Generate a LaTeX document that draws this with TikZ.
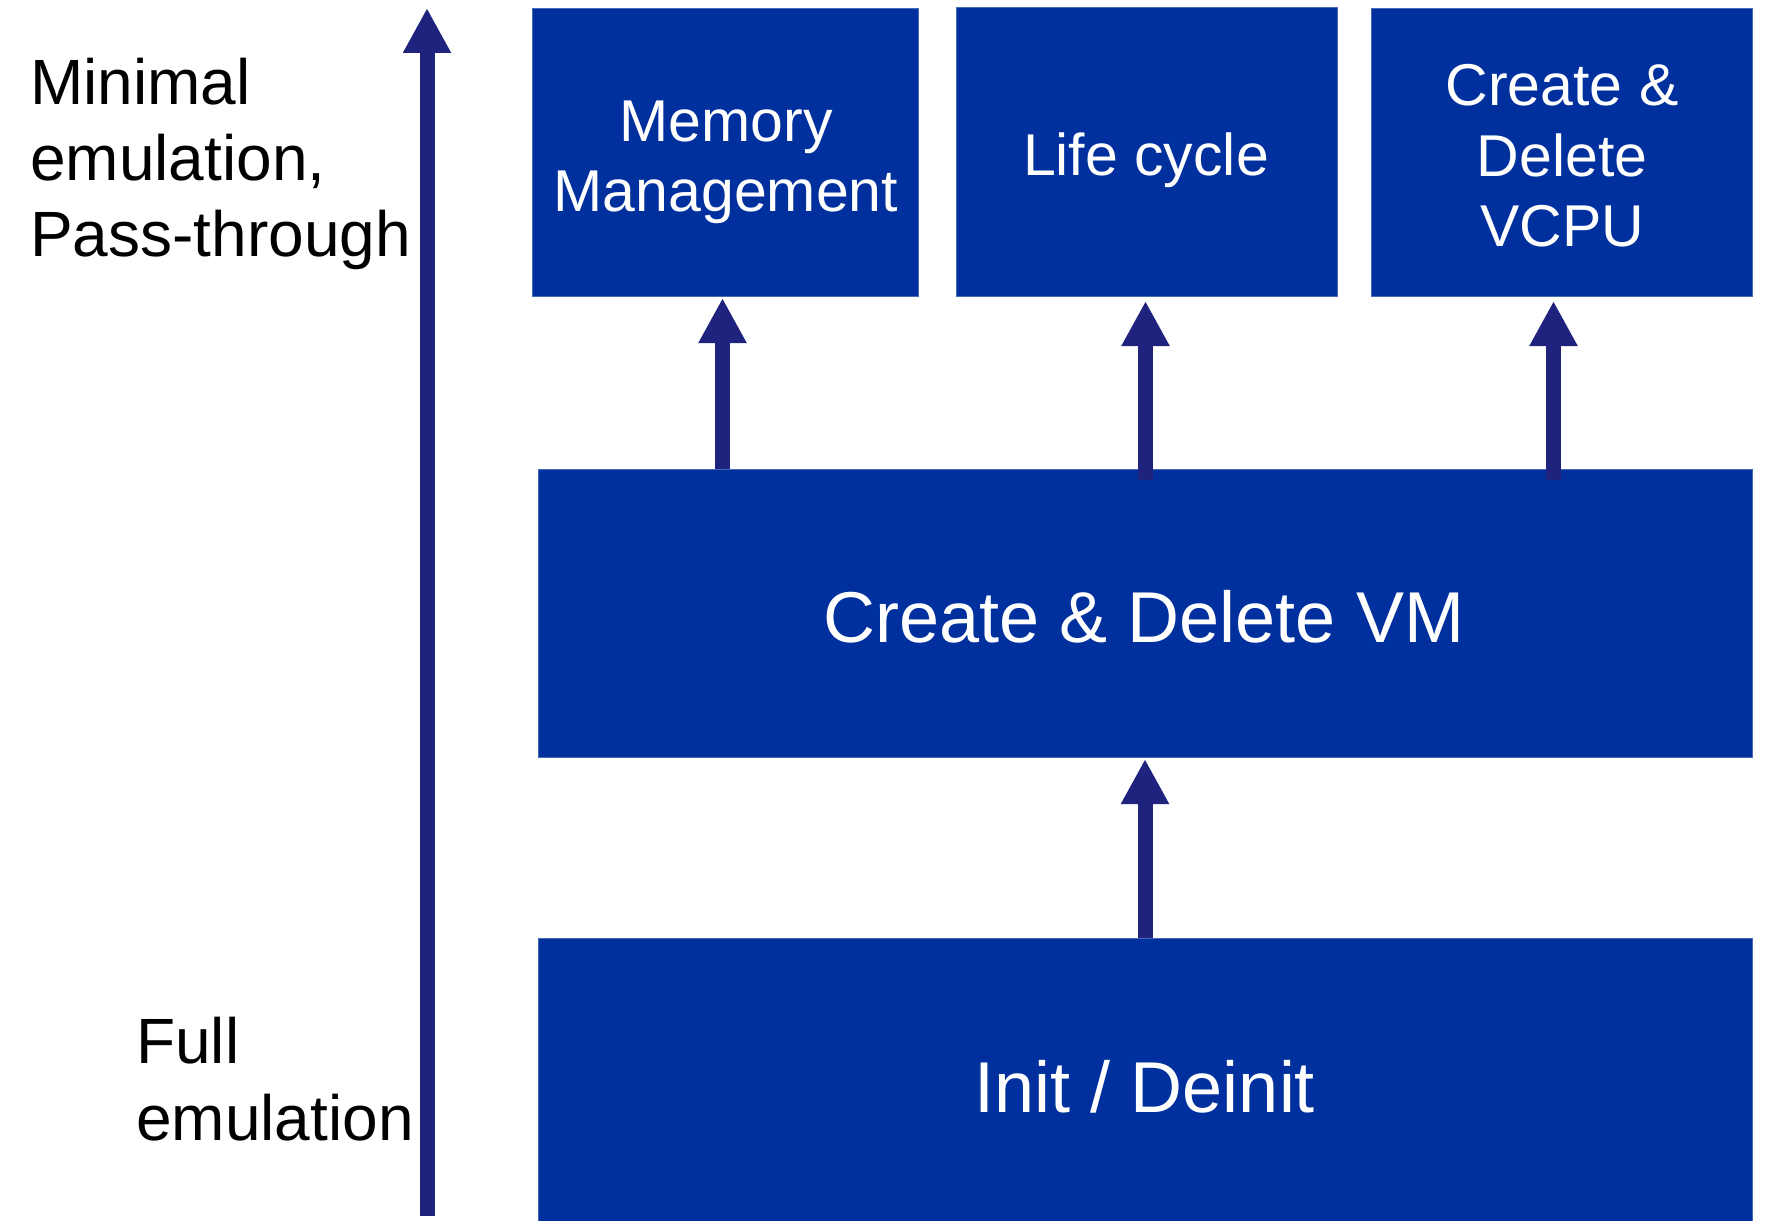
\documentclass[tikz,border=0pt]{standalone}
\usepackage{fontspec}
\setmainfont{Liberation Sans}
\usetikzlibrary{arrows.meta}

\definecolor{boxfill}{RGB}{0,47,158}
\definecolor{boxedge}{RGB}{70,105,185}
\definecolor{arrowblue}{RGB}{31,35,125}

\tikzset{
  block/.style={rectangle, fill=boxfill, draw=boxedge, line width=1pt,
    inner sep=0pt, anchor=north west},
  boxtext/.style={text=white, inner sep=0pt, anchor=base},
  sidetext/.style={text=black, inner sep=0pt, anchor=base west},
  uparrow/.style={draw=arrowblue, line width=15pt,
    -{Triangle[length=45pt,width=45pt]}, arrowblue},
}

\begin{document}
\begin{tikzpicture}[x=1pt, y=-1pt]
  \useasboundingbox (0,0) rectangle (1768,1220);

  % building blocks
  \node[block, minimum width=386pt, minimum height=288pt] (mm)   at (532,8)   {};
  \node[block, minimum width=381pt, minimum height=289pt] (lc)   at (956,7)   {};
  \node[block, minimum width=381pt, minimum height=288pt] (vcpu) at (1371,8)  {};
  \node[block, minimum width=1214pt, minimum height=288pt] (vm)  at (538,469) {};
  \node[block, minimum width=1214pt, minimum height=290pt] (init) at (538,938) {};

  % block labels
  \node[boxtext, font=\fontsize{59}{70}\selectfont] (mmtext) at (726,142)
    {\begin{tabular}[t]{@{}c@{}}Memory\\Management\end{tabular}};
  \node[boxtext, font=\fontsize{59}{70}\selectfont] (lctext) at (1146,175) {Life cycle};
  \node[boxtext, font=\fontsize{59}{70.5}\selectfont] (vcputext) at (1562,106)
    {\begin{tabular}[t]{@{}c@{}}Create \&\\Delete\\VCPU\end{tabular}};
  \node[boxtext, font=\fontsize{72}{85}\selectfont] (vmtext) at (1144,642) {Create \& Delete VM};
  \node[boxtext, font=\fontsize{72}{85}\selectfont] (inittext) at (1145,1112) {Init / Deinit};

  % scale labels on the left
  \node[sidetext, font=\fontsize{64}{76}\selectfont] (top) at (30,105)
    {\begin{tabular}[t]{@{}l@{}}Minimal\\emulation,\\Pass-through\end{tabular}};
  \node[sidetext, font=\fontsize{64}{77}\selectfont] (bottom) at (136,1063)
    {\begin{tabular}[t]{@{}l@{}}Full\\emulation\end{tabular}};

  % emulation scale arrow
  \coordinate (scalelow)  at (427,1216);
  \coordinate (scalehigh) at (427,8);
  \draw[uparrow] (scalelow) -- (scalehigh);

  % dependency arrows
  \draw[uparrow, shorten >=1pt] ([xshift=-3pt]mm.south |- vm.north) -- ([xshift=-3pt]mm.south);
  \draw[uparrow, shorten >=4pt] ([xshift=-1.5pt,yshift=-11pt]lc.south |- vm.north) -- ([xshift=-1.5pt]lc.south);
  \draw[uparrow, shorten >=4pt] ([xshift=-8.5pt,yshift=-11pt]vcpu.south |- vm.north) -- ([xshift=-8.5pt]vcpu.south);
  \draw[uparrow, shorten >=1pt] ([xshift=-0.5pt]vm.south |- init.north) -- ([xshift=-0.5pt]vm.south);
\end{tikzpicture}
\end{document}
